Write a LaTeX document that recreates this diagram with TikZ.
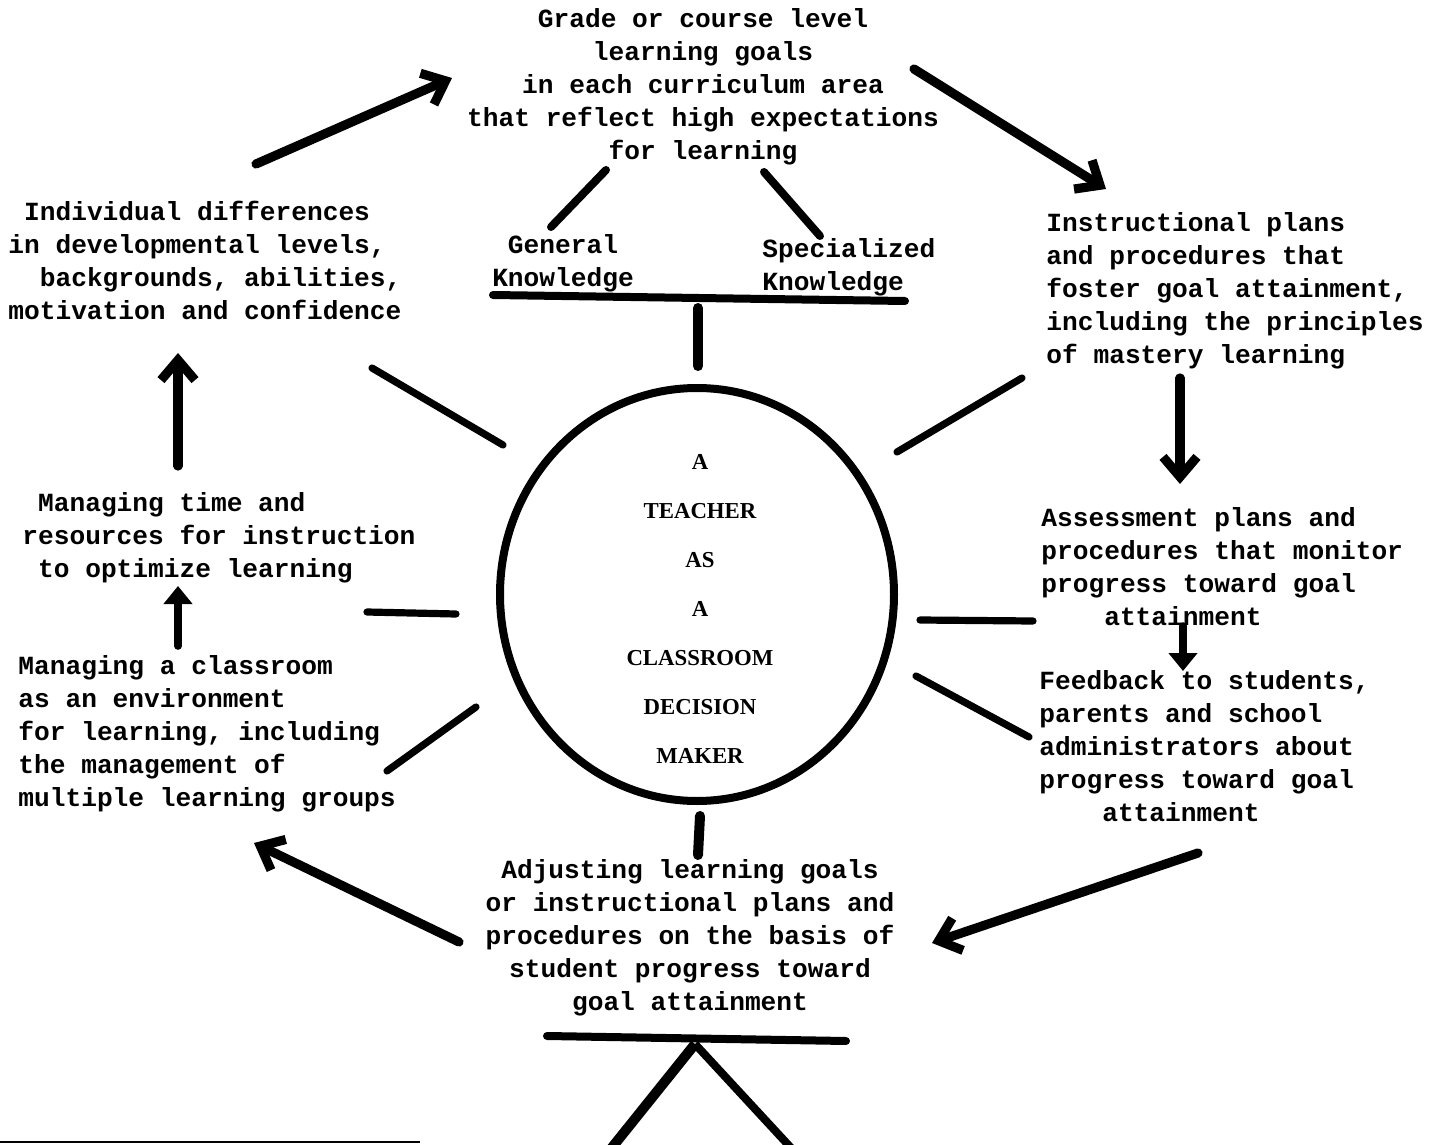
\documentclass[tikz,border=0pt]{standalone}
\usepackage{fontspec}
\setmonofont{Liberation Mono}
\newfontfamily\cserif{Liberation Serif}
\usetikzlibrary{arrows.meta,shapes.geometric}
\tikzset{
  tw/.style={font=\ttfamily\bfseries\fontsize{13.1pt}{16.5pt}\selectfont, inner sep=0pt},
  twl/.style={tw, align=left, anchor=west},
  twc/.style={tw, align=center},
  spoke/.style={line width=3.6pt, line cap=round},
  bar/.style={line width=4pt, line cap=round},
  arr/.style={line width=4.6pt, line cap=round, -{Straight Barb[length=10pt,width=17pt]}},
  sarr/.style={line width=3.8pt, line cap=round, -{Triangle[length=9pt,width=14pt]}},
  hub/.style={draw, ellipse, line width=4pt, minimum width=197pt, minimum height=206.5pt, inner sep=0pt},
  hubtext/.style={font=\cserif\bfseries\fontsize{11.4pt}{24.5pt}\selectfont, align=center, inner sep=0pt}
}
\begin{document}
\begin{tikzpicture}[x=0.5pt,y=-0.5pt]
\useasboundingbox (0,0) rectangle (1431,1145);

% ---------------- nodes ----------------
\node[twc] (grade) at (703,86.5) {Grade or course level\\learning goals\\in each curriculum area\\that reflect high expectations\\for learning};
\node[twc] (genk) at (563,263) {General\\Knowledge};
\node[twl] (speck) at (762,267.5) {Specialized\\Knowledge};
\node[twl] (indiv) at (8,260) {\phantom{x}Individual differences\\in developmental levels,\\\phantom{xx}backgrounds, abilities,\\motivation and confidence};
\node[twl] (instr) at (1046,290.5) {Instructional plans\\and procedures that\\foster goal attainment,\\including the principles\\of mastery learning};
\node[twl] (assess) at (1041,566.5) {Assessment plans and\\procedures that monitor\\progress toward goal\\\phantom{xxxx}attainment};
\node[twl] (feedb) at (1039,746.5) {Feedback to students,\\parents and school\\administrators about\\progress toward goal\\\phantom{xxxx}attainment};
\node[twl] (mtime) at (22,537.5) {\phantom{x}Managing time and\\resources for instruction\\\phantom{x}to optimize learning};
\node[twl] (mclass) at (18,734) {Managing a classroom\\as an environment\\for learning, including\\the management of\\multiple learning groups};
\node[twc] (adjust) at (690,937.5) {Adjusting learning goals\\or instructional plans and\\procedures on the basis of\\student progress toward\\goal attainment};

\node[hub] (hub) at (697,594.5) {};
\node[hubtext] (ctext) at (700,609) {A\\TEACHER\\AS\\A\\CLASSROOM\\DECISION\\MAKER};

% ---------------- connector end points ----------------
\coordinate (gl1) at (606,170);  \coordinate (gl2) at (551,227);
\coordinate (gr1) at (764,172);  \coordinate (gr2) at (820,236);
\coordinate (kb1) at (493,295);  \coordinate (kb2) at (905,301);
\coordinate (kv1) at (698,308);  \coordinate (kv2) at (698,366);

\coordinate (tl1) at (256,164);  \coordinate (tl2) at (452,78);
\coordinate (tr1) at (914,69);   \coordinate (tr2) at (1106,189);
\coordinate (rc1) at (1180,378); \coordinate (rc2) at (1180,484);
\coordinate (rs1) at (1183,626); \coordinate (rs2) at (1183,671);
\coordinate (br1) at (1198,853); \coordinate (br2) at (932,943);
\coordinate (bl1) at (459,942);  \coordinate (bl2) at (254,843);
\coordinate (ls1) at (178,646);  \coordinate (ls2) at (178,586);
\coordinate (lc1) at (178,466);  \coordinate (lc2) at (178,353);

\coordinate (sp1a) at (372,368); \coordinate (sp1b) at (503,445);
\coordinate (sp2a) at (897,452); \coordinate (sp2b) at (1022,378);
\coordinate (sp3a) at (367,612); \coordinate (sp3b) at (456,614);
\coordinate (sp4a) at (920,620); \coordinate (sp4b) at (1033,621);
\coordinate (sp5a) at (387,771); \coordinate (sp5b) at (476,707);
\coordinate (sp6a) at (916,676); \coordinate (sp6b) at (1029,737);
\coordinate (bv1) at (700,816);  \coordinate (bv2) at (698,855);

\coordinate (sb1) at (547,1036); \coordinate (sb2) at (846,1041);
\coordinate (sbm) at (695,1044);
\coordinate (sbl) at (610,1150); \coordinate (sbr) at (793,1150);
\coordinate (rule1) at (0,1142); \coordinate (rule2) at (420,1142);

% ---------------- connectors ----------------
\draw[bar] (gl1) -- (gl2);
\draw[bar] (gr1) -- (gr2);
\draw[bar] (kb1) -- (kb2);
\draw[line width=5pt, line cap=round] (kv1) -- (kv2);

\draw[arr] (tl1) -- (tl2);
\draw[arr] (tr1) -- (tr2);
\draw[arr] (rc1) -- (rc2);
\draw[sarr] (rs1) -- (rs2);
\draw[arr] (br1) -- (br2);
\draw[arr] (bl1) -- (bl2);
\draw[sarr] (ls1) -- (ls2);
\draw[arr] (lc1) -- (lc2);

\draw[spoke] (sp1a) -- (sp1b);
\draw[spoke] (sp2a) -- (sp2b);
\draw[spoke] (sp3a) -- (sp3b);
\draw[spoke] (sp4a) -- (sp4b);
\draw[spoke] (sp5a) -- (sp5b);
\draw[spoke] (sp6a) -- (sp6b);
\draw[line width=5pt, line cap=round] (bv1) -- (bv2);

\draw[bar] (sb1) -- (sb2);
\draw[line width=5pt] (sbm) -- (sbl);
\draw[line width=4pt] (sbm) -- (sbr);
\draw[line width=1.2pt] (rule1) -- (rule2);
\end{tikzpicture}
\end{document}
